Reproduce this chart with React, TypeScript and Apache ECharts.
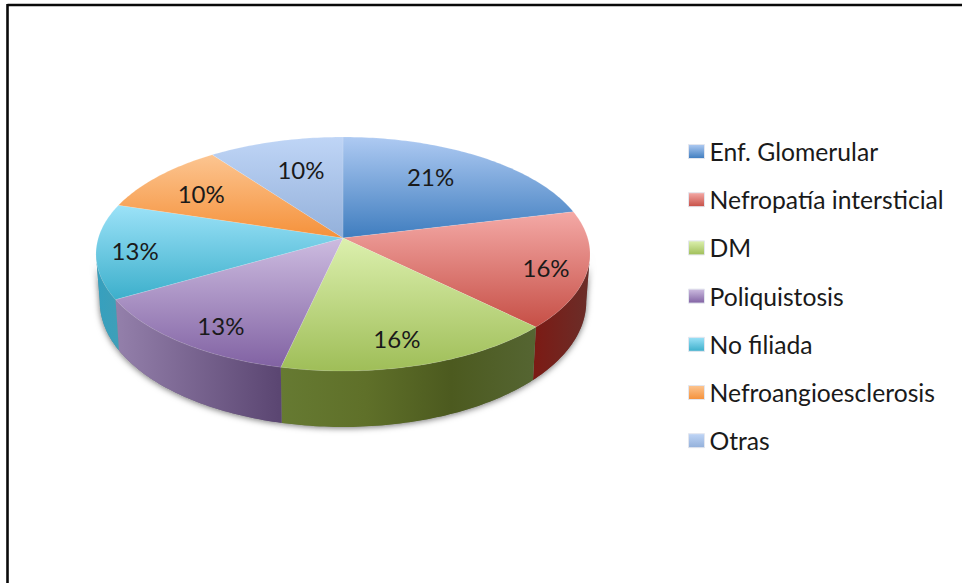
import React, { useEffect, useRef } from "react";
import * as echarts from "echarts";

const categories = [
  "Enf. Glomerular",
  "Nefropatía intersticial",
  "DM",
  "Poliquistosis",
  "No filiada",
  "Nefroangioesclerosis",
  "Otras",
];
const values = [21, 16, 16, 13, 13, 10, 10];

// Vertical shading of each slice's top face.
const topColors = [
  ["#aecaf2", "#3f7dbf"],
  ["#f4a9a6", "#c64f46"],
  ["#dcf0ae", "#9fbe58"],
  ["#cdbce0", "#8162a3"],
  ["#9ce2f8", "#3cafcb"],
  ["#fcc591", "#f5913a"],
  ["#bfd5f6", "#93b0da"],
];
// Horizontal shading of each slice's outer wall.
const wallColors = [
  ["#3f6ea3", "#2f5888"],
  ["#7c1a14", "#6a2e29"],
  ["#667a32", "#5f7029", "#4c5a1f", "#556532"],
  ["#9480ab", "#5a4571"],
  ["#35a0bf", "#3f9fb8"],
  ["#d07a2a", "#b8651f"],
  ["#7f96bb", "#6f87ad"],
];

// Projection of the tilted disc onto the page.
const CX = 343;
const CY = 238;
const RX = 244.7;
const RY = 114.8;
const PERSPECTIVE = 0.1368;
const WALL_FROM = 97.9;
const WALL_TO = 262.1;

// Label placement inside each slice: fraction of the radius, fraction of the sweep.
const labelRadius = [0.683, 0.84, 0.81, 0.828, 0.844, 0.733, 0.671];
const labelSweep = [0.45, 0.536, 0.54, 0.43, 0.47, 0.445, 0.555];

const total = values.reduce((a, b) => a + b, 0);
const toDeg = (v: number) => (v / total) * 360;

function project(deg: number, r = 1): [number, number] {
  const t = (deg * Math.PI) / 180;
  const u = Math.sin(t) * r;
  const v = -Math.cos(t) * r;
  const d = 1 - PERSPECTIVE * v;
  return [CX + (RX * u) / d, CY + (RY * v) / d];
}

function lower(deg: number): [number, number] {
  const [x, y] = project(deg);
  const v = -Math.cos((deg * Math.PI) / 180);
  return [CX + (x - CX) * 0.985, y + 46 + 10 * v];
}

function arc(a: number, b: number, fn: (d: number) => [number, number]) {
  const pts: [number, number][] = [];
  const n = Math.max(2, Math.ceil(Math.abs(b - a)));
  for (let i = 0; i <= n; i++) pts.push(fn(a + ((b - a) * i) / n));
  return pts;
}

function gradient(stops: string[], horizontal: boolean) {
  const list = stops.map((color, i) => ({ offset: i / (stops.length - 1), color }));
  return new echarts.graphic.LinearGradient(0, 0, horizontal ? 1 : 0, horizontal ? 0 : 1, list);
}

function sliceItem(index: number, value: number) {
  const start = toDeg(values.slice(0, index).reduce((a, b) => a + b, 0));
  const end = start + toDeg(value);
  const children: any[] = [];

  const from = Math.max(start, WALL_FROM);
  const to = Math.min(end, WALL_TO);
  if (to > from) {
    const wall = [...arc(from, to, (d) => project(d)), ...arc(to, from, lower)];
    children.push({
      type: "polygon",
      z2: 0,
      shape: { points: wall },
      style: {
        fill: "#888888",
        shadowBlur: 6,
        shadowOffsetY: 1,
        shadowColor: "rgba(0,0,0,0.55)",
      },
    });
    children.push({
      type: "polygon",
      z2: 1,
      shape: { points: wall },
      style: { fill: gradient(wallColors[index], true) },
    });
  }

  children.push({
    type: "polygon",
    z2: 2,
    shape: { points: [[CX, CY], ...arc(start, end, (d) => project(d))] },
    style: {
      fill: gradient(topColors[index], false),
      stroke: "rgba(255,255,255,0.25)",
      lineWidth: 0.5,
    },
  });

  const [lx, ly] = project(start + (end - start) * labelSweep[index], labelRadius[index]);
  children.push({
    type: "text",
    z2: 3,
    x: lx,
    y: ly - 1,
    style: {
      text: `${value}%`,
      font: "24px Lato",
      fill: "#1a1a1a",
      align: "center",
      verticalAlign: "middle",
    },
  });

  return { type: "group", children };
}

export default function App() {
  const ref = useRef<HTMLDivElement>(null);

  useEffect(() => {
    const chart = echarts.init(ref.current!, undefined, { renderer: "svg" });
    chart.setOption({
      animation: false,
      backgroundColor: "#ffffff",
      legend: {
        data: categories,
        orient: "vertical",
        left: 683,
        top: 134,
        icon: "rect",
        itemWidth: 16,
        itemHeight: 14,
        itemGap: 23.2,
        selectedMode: false,
        itemStyle: { borderColor: "#e3e6ee", borderWidth: 1 },
        textStyle: { fontFamily: "Lato", fontSize: 24.7, color: "#1a1a1a" },
      },
      graphic: [
        { type: "line", shape: { x1: 7.5, y1: 5, x2: 962, y2: 5 }, style: { stroke: "#0a0a0a", lineWidth: 2.6 } },
        { type: "line", shape: { x1: 7.5, y1: 4, x2: 7.5, y2: 583 }, style: { stroke: "#0a0a0a", lineWidth: 2.6 } },
      ],
      series: categories.map((name, i) => ({
        type: "custom",
        name,
        coordinateSystem: "none",
        itemStyle: { color: gradient(topColors[i], false) },
        data: [[values[i]]],
        renderItem: (_params: any, api: any) => sliceItem(i, api.value(0)),
      })),
    });
    return () => chart.dispose();
  }, []);

  return <div ref={ref} style={{ position: "fixed", left: 0, top: 0, width: 962, height: 583 }} />;
}
